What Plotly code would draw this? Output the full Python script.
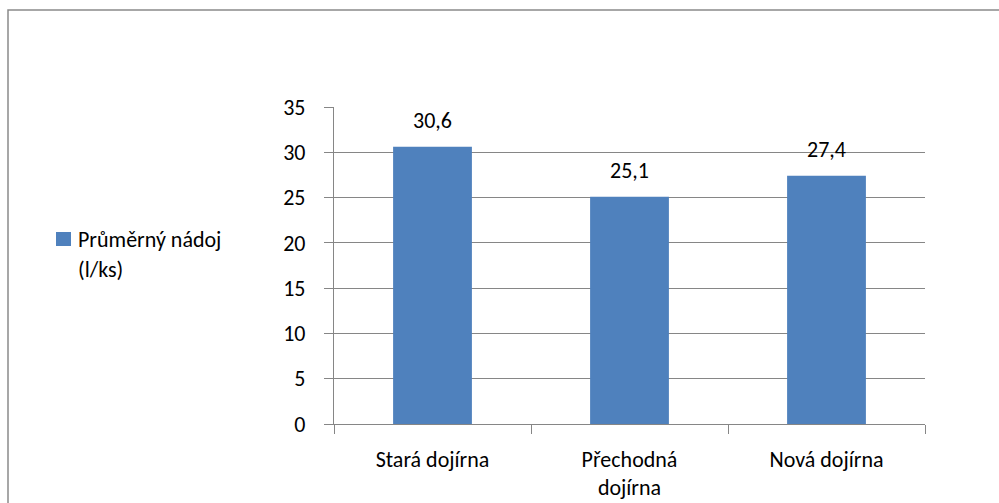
import plotly.graph_objects as go

# Average milk yield per cow by milking parlour
categories = ["Stará dojírna", "Přechodná<br>dojírna", "Nová dojírna"]
values = [30.6, 25.1, 27.4]
series_name = ["Průměrný nádoj", "(l/ks)"]
y_ticks = [0, 5, 10, 15, 20, 25, 30, 35]

W, H = 999, 503
ML, MR, MT, MB = 334, 74, 107, 79
PW, PH = W - ML - MR, H - MT - MB

BAR = "#4F81BD"
GRID = "#868686"
FONT = "Carlito, Calibri, Lato, sans-serif"
FS = 22


def px_x(px):
    return (px - ML) / PW


def px_y(py):
    return (MT + PH - py) / PH


fig = go.Figure(
    go.Bar(
        x=categories,
        y=values,
        marker=dict(color=BAR, line=dict(width=0)),
        showlegend=False,
        hoverinfo="x+y",
    )
)

# value labels above each bar
for c, v in zip(categories, values):
    fig.add_annotation(
        x=c, y=v, xref="x", yref="y",
        text=f"{v:.1f}".replace(".", ","),
        showarrow=False, yanchor="middle", yshift=26,
        font=dict(family=FONT, size=FS, color="#000000"),
    )

# legend key and wrapped series name
fig.add_shape(
    type="rect", xref="paper", yref="paper",
    x0=px_x(56), x1=px_x(71), y0=px_y(246), y1=px_y(232),
    fillcolor=BAR, line=dict(width=0),
)
for line_text, cy in zip(series_name, [239, 269]):
    fig.add_annotation(
        x=px_x(76), y=px_y(cy), xref="paper", yref="paper",
        text=line_text, showarrow=False, xanchor="left", yanchor="middle",
        font=dict(family=FONT, size=FS, color="#000000"),
    )

# chart frame
fig.add_shape(
    type="rect", xref="paper", yref="paper",
    x0=px_x(8), x1=px_x(1010), y0=px_y(515), y1=px_y(10),
    line=dict(color="#8A8A8A", width=1.5), fillcolor="rgba(0,0,0,0)",
    layer="below",
)

fig.update_layout(
    width=W, height=H,
    margin=dict(l=ML, r=MR, t=MT, b=MB, pad=0, autoexpand=False),
    paper_bgcolor="white", plot_bgcolor="white",
    bargap=0.6,
    font=dict(family=FONT, size=FS, color="#000000"),
    xaxis=dict(
        type="category", automargin=False,
        showline=True, linecolor=GRID, linewidth=1.3,
        ticks="outside", tickson="boundaries", ticklen=9, tickcolor=GRID,
        tickwidth=1.3, ticklabelstandoff=15, showgrid=False,
        tickfont=dict(family=FONT, size=FS, color="#000000"),
    ),
    yaxis=dict(
        range=[0, 35], tickvals=y_ticks, ticktext=[str(t) for t in y_ticks],
        automargin=False,
        showline=True, linecolor=GRID, linewidth=1.3,
        ticks="outside", ticklen=9, tickcolor=GRID, tickwidth=1.3,
        ticklabelstandoff=14,
        showgrid=True, gridcolor=GRID, gridwidth=1.3, zeroline=False,
        tickfont=dict(family=FONT, size=FS, color="#000000"),
    ),
)

fig.write_html("out.html")
